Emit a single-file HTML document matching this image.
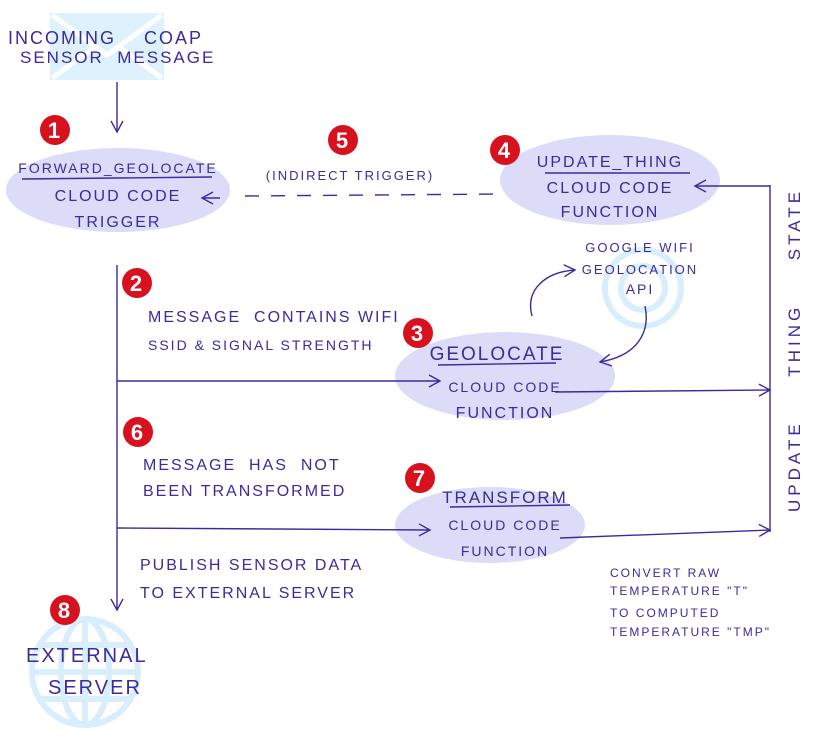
<!DOCTYPE html>
<html><head><meta charset="utf-8"><style>
body{margin:0;background:#fff}
svg text{font-family:"Liberation Sans",sans-serif;fill:#3b2b9c;text-transform:uppercase;letter-spacing:2px}
</style></head><body>
<svg width="814" height="733" viewBox="0 0 814 733" xmlns="http://www.w3.org/2000/svg">
<defs>
<marker id="a" markerWidth="14" markerHeight="14" refX="12" refY="7" orient="auto" markerUnits="userSpaceOnUse">
<path d="M1,1 L12,7 L1,13" fill="none" stroke="#3b2b9c" stroke-width="1.4"/></marker>
</defs>
<g stroke="#3b2b9c" stroke-width="1.4" fill="none">
<rect x="50" y="13" width="114" height="67" fill="#ddf2fd" stroke="none"/>
<path d="M52,15 L107,55 L162,15 M52,78 L95,47 M162,78 L119,47" stroke="#fff" stroke-width="5"/>
<g stroke="#d8eefc" stroke-width="6">
<circle cx="85" cy="672" r="53"/>
<ellipse cx="85" cy="672" rx="24" ry="53"/>
<line x1="85" y1="619" x2="85" y2="725"/>
<line x1="32" y1="672" x2="138" y2="672"/>
<line x1="40" y1="645" x2="130" y2="645"/>
<line x1="40" y1="699" x2="130" y2="699"/>
<circle cx="643" cy="288" r="38"/>
<circle cx="643" cy="288" r="22"/>
</g>
<ellipse cx="118" cy="190" rx="112" ry="42" fill="#dcdcf8" stroke="none"/>
<ellipse cx="610" cy="180" rx="110" ry="45" fill="#dcdcf8" stroke="none"/>
<ellipse cx="505" cy="376" rx="110" ry="44" fill="#dcdcf8" stroke="none"/>
<ellipse cx="490" cy="525" rx="95" ry="38" fill="#dcdcf8" stroke="none"/>
<line x1="117" y1="82" x2="117" y2="132" marker-end="url(#a)"/>
<line x1="22" y1="179" x2="212" y2="177"/>
<line x1="545" y1="173" x2="690" y2="173"/>
<line x1="438" y1="365" x2="556" y2="363"/>
<line x1="450" y1="507" x2="570" y2="505"/>
<line x1="245" y1="196" x2="505" y2="194" stroke-dasharray="14,12"/>
<line x1="220" y1="198" x2="202" y2="198" marker-end="url(#a)"/>
<line x1="770" y1="185" x2="770" y2="532"/>
<line x1="770" y1="186" x2="695" y2="186" marker-end="url(#a)"/>
<line x1="117" y1="265" x2="117" y2="610" marker-end="url(#a)"/>
<line x1="117" y1="381" x2="440" y2="381" marker-end="url(#a)"/>
<line x1="555" y1="392" x2="770" y2="390" marker-end="url(#a)"/>
<line x1="117" y1="528" x2="430" y2="530" marker-end="url(#a)"/>
<line x1="560" y1="538" x2="770" y2="530" marker-end="url(#a)"/>
<path d="M532,316 C525,290 545,272 575,270" marker-end="url(#a)"/>
<path d="M645,306 C650,330 640,355 600,362" marker-end="url(#a)"/>
</g>
<g fill="#d8111e">
<circle cx="55" cy="130" r="15"/><circle cx="505" cy="150" r="15"/>
<circle cx="343" cy="140" r="15"/><circle cx="137" cy="283" r="15"/>
<circle cx="418" cy="333" r="15"/><circle cx="138" cy="432" r="15"/>
<circle cx="420" cy="478" r="15"/><circle cx="65" cy="610" r="15"/>
</g>
<g font-size="22" font-weight="bold" text-anchor="middle" style="letter-spacing:0">
<text x="55" y="138" style="fill:#fff">1</text><text x="505" y="158" style="fill:#fff">4</text>
<text x="343" y="148" style="fill:#fff">5</text><text x="137" y="291" style="fill:#fff">2</text>
<text x="418" y="341" style="fill:#fff">3</text><text x="138" y="440" style="fill:#fff">6</text>
<text x="420" y="486" style="fill:#fff">7</text><text x="65" y="618" style="fill:#fff">8</text>
</g>
<g font-size="16">
<text x="8" y="44" font-size="18">Incoming&#160;&#160;&#160;&#160;CoAP</text>
<text x="20" y="63" font-size="17">Sensor&#160;&#160;Message</text>
<text x="118" y="173" text-anchor="middle" font-size="14">Forward_Geolocate</text>
<text x="118" y="201" text-anchor="middle">Cloud Code</text>
<text x="118" y="227" text-anchor="middle">Trigger</text>
<text x="350" y="180" text-anchor="middle" font-size="13">(Indirect Trigger)</text>
<text x="610" y="167" text-anchor="middle">Update_Thing</text>
<text x="610" y="193" text-anchor="middle">Cloud Code</text>
<text x="610" y="217" text-anchor="middle">Function</text>
<text x="148" y="322">Message&#160;&#160;contains wifi</text>
<text x="148" y="350" font-size="14">SSID &amp; signal strength</text>
<text x="640" y="252" text-anchor="middle" font-size="13">Google wifi</text>
<text x="640" y="274" text-anchor="middle" font-size="13">Geolocation</text>
<text x="640" y="294" text-anchor="middle" font-size="14">API</text>
<text x="497" y="360" text-anchor="middle" font-size="19">Geolocate</text>
<text x="505" y="392" text-anchor="middle" font-size="14">Cloud Code</text>
<text x="505" y="418" text-anchor="middle">Function</text>
<text x="143" y="470">Message&#160;&#160;has&#160;&#160;not</text>
<text x="143" y="496">been transformed</text>
<text x="505" y="503" text-anchor="middle" font-size="17">Transform</text>
<text x="505" y="530" text-anchor="middle" font-size="14">Cloud Code</text>
<text x="505" y="556" text-anchor="middle" font-size="14">Function</text>
<text x="140" y="570">Publish sensor data</text>
<text x="140" y="598">to external server</text>
<text x="26" y="662" font-size="20">External</text>
<text x="48" y="694" font-size="20">Server</text>
<text transform="translate(800,512) rotate(-90)" font-size="17" style="letter-spacing:4px">Update&#160;&#160;&#160;&#160;&#160;Thing&#160;&#160;&#160;&#160;&#160;State</text>
</g>
<g font-size="12">
<text x="610" y="577">Convert raw</text>
<text x="610" y="595">temperature "T"</text>
<text x="610" y="617">to computed</text>
<text x="610" y="636">temperature "TMP"</text>
</g>
</svg>
</body></html>
